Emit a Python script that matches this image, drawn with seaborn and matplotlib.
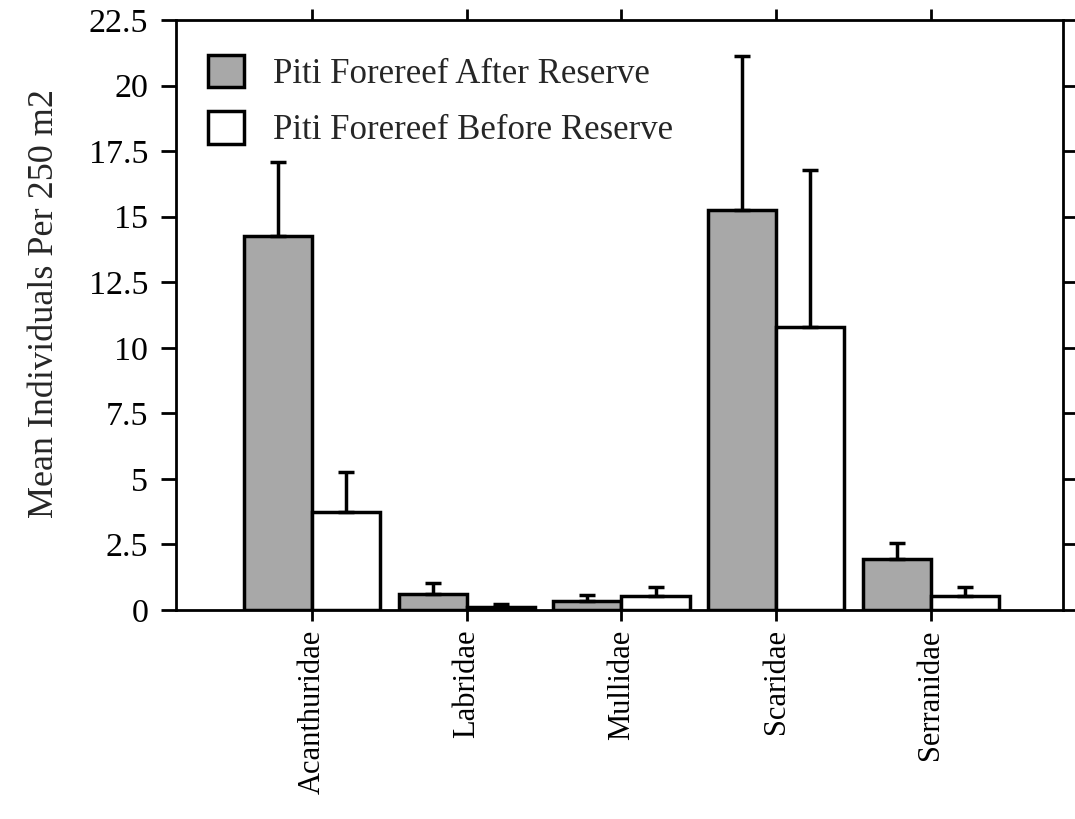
import matplotlib
matplotlib.use("Agg")
import matplotlib.pyplot as plt
import seaborn as sns
import pandas as pd
import numpy as np

families = ["Acanthuridae", "Labridae", "Mullidae", "Scaridae", "Serranidae"]
series = ["Piti Forereef After Reserve", "Piti Forereef Before Reserve"]
after_mean = [14.26, 0.60, 0.34, 15.27, 1.96]
after_err = [2.82, 0.44, 0.23, 5.86, 0.59]
before_mean = [3.74, 0.13, 0.55, 10.80, 0.55]
before_err = [1.51, 0.10, 0.32, 5.98, 0.32]
yticks = [0, 2.5, 5, 7.5, 10, 12.5, 15, 17.5, 20, 22.5]
ytick_labels = ["0", "2.5", "5", "7.5", "10", "12.5", "15", "17.5", "20", "22.5"]

df = pd.DataFrame({
    "family": families * 2,
    "series": [series[0]] * 5 + [series[1]] * 5,
    "mean": after_mean + before_mean,
    "err": after_err + before_err,
})

sns.set_theme(style="white")
plt.rcParams["font.family"] = ["Liberation Serif", "DejaVu Serif"]

fig = plt.figure(figsize=(10.75, 8.19), dpi=100)
ax = fig.add_axes([0.1637, 0.2552, 0.8251, 0.7204])

sns.barplot(data=df, x="family", y="mean", hue="series", order=families,
            hue_order=series, palette=["#a8a8a8", "#ffffff"], width=0.88,
            edgecolor="black", linewidth=2.5, errorbar=None, ax=ax,
            saturation=1)

# error bars (upward only)
for container, s in zip(ax.containers, series):
    sub = df[df["series"] == s].set_index("family").loc[families]
    xs = [p.get_x() + p.get_width() / 2 for p in container.patches]
    ax.errorbar(xs, sub["mean"].values,
                yerr=[np.zeros(len(xs)), sub["err"].values],
                fmt="none", ecolor="black", elinewidth=2.5, capsize=5.5,
                capthick=2.5, zorder=3)

ax.set_xlim(-0.879, 4.853)
ax.set_ylim(0, 22.5)
ax.set_yticks(yticks)
ax.set_yticklabels(ytick_labels, fontsize=24.5)
ax.set_xlabel("")
ax.set_ylabel("Mean Individuals Per 250 m2", fontsize=26, labelpad=20)
ax.yaxis.label.set_y(0.52)
ax.set_xticks(range(len(families)))
ax.set_xticklabels(families, rotation=90, fontsize=22)

for sp in ax.spines.values():
    sp.set_visible(True)
    sp.set_color("black")
    sp.set_linewidth(2)

ax.tick_params(axis="both", which="both", direction="out", width=2,
               color="black", top=True, right=True, bottom=True, left=True,
               labeltop=False, labelright=False, labelcolor="black")
ax.tick_params(axis="y", length=11, pad=9)
ax.tick_params(axis="x", length=8, pad=6)

leg = ax.legend(loc="upper left", frameon=False, fontsize=25,
                bbox_to_anchor=(0.020, 0.965), handlelength=1.04,
                handleheight=1.07, handletextpad=0.84, labelspacing=0.59,
                borderaxespad=0.0)
for h in leg.legend_handles:
    h.set_edgecolor("black")
    h.set_linewidth(2.5)

fig.savefig("out.png", dpi=100, facecolor="white")
